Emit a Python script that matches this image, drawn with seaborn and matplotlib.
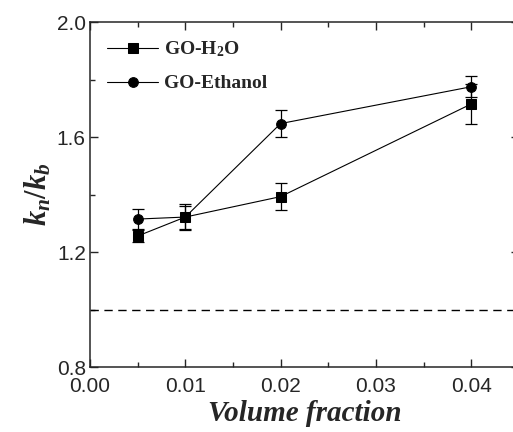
import numpy as np
import pandas as pd
import matplotlib
matplotlib.use('Agg')
import matplotlib.pyplot as plt
import seaborn as sns
from matplotlib.ticker import MultipleLocator

# data
vol_frac = [0.005, 0.01, 0.02, 0.04]
h2o_ratio = [1.256, 1.322, 1.393, 1.715]
h2o_err = [0.022, 0.046, 0.047, 0.068]
eth_ratio = [1.315, 1.322, 1.647, 1.775]
eth_err = [0.036, 0.040, 0.047, 0.036]
series_names = ['GO-H$_2$O', 'GO-Ethanol']
baseline = 1.0

sns.set_style('ticks')
plt.rcParams['font.family'] = ['Liberation Sans', 'DejaVu Sans']
plt.rcParams['mathtext.fontset'] = 'custom'
plt.rcParams['mathtext.rm'] = 'Liberation Serif:bold'
plt.rcParams['mathtext.it'] = 'Liberation Serif:bold:italic'
plt.rcParams['mathtext.bf'] = 'Liberation Serif:bold'

df = pd.DataFrame({
    'x': vol_frac * 2,
    'y': h2o_ratio + eth_ratio,
    'err': h2o_err + eth_err,
    'series': [series_names[0]] * 4 + [series_names[1]] * 4,
})

fig = plt.figure(figsize=(5.13, 4.32), dpi=100)
ax = fig.add_axes([0.1754, 0.150, 0.836, 0.799])

# error bars first
for name in series_names:
    sub = df[df['series'] == name]
    ax.errorbar(sub['x'], sub['y'], yerr=sub['err'], fmt='none',
                ecolor='black', elinewidth=0.9, capsize=4.5, capthick=0.9, zorder=2)

sns.lineplot(data=df, x='x', y='y', hue='series', style='series',
             markers={series_names[0]: 's', series_names[1]: 'o'}, dashes=False,
             palette=['black', 'black'], markersize=7, linewidth=0.8,
             markeredgecolor='black', ax=ax, zorder=3)

ax.axhline(baseline, color='black', linestyle=(0, (6, 4)), linewidth=1.0)

ax.set_xlim(0, 0.045)
ax.set_ylim(0.8, 2.0)
ax.xaxis.set_minor_locator(MultipleLocator(0.005))
ax.yaxis.set_minor_locator(MultipleLocator(0.2))
ax.set_xticks([0, 0.01, 0.02, 0.03, 0.04])
ax.set_xticklabels(['0.00', '0.01', '0.02', '0.03', '0.04'])
ax.set_yticks([0.8, 1.2, 1.6, 2.0])
ax.set_yticklabels(['0.8', '1.2', '1.6', '2.0'])
ax.tick_params(which='both', direction='in', top=True, right=True, labelsize=15, width=1)
ax.tick_params(axis='x', pad=7)
ax.tick_params(axis='y', pad=3)
ax.tick_params(which='major', length=6)
ax.tick_params(which='minor', length=3.5)
for s in ax.spines.values():
    s.set_linewidth(1.1)

ax.set_xlabel('Volume fraction', family='Liberation Serif', weight='bold',
              style='italic', fontsize=21, labelpad=3)
ax.set_ylabel('$k_n/k_b$', fontsize=22, labelpad=2)

ax.legend(loc='upper left', frameon=False, handlelength=2.6, handletextpad=0.3,
          labelspacing=0.8, borderaxespad=0.5,
          prop={'family': 'Liberation Serif', 'weight': 'bold', 'size': 14})

fig.savefig('out.png', dpi=100)
